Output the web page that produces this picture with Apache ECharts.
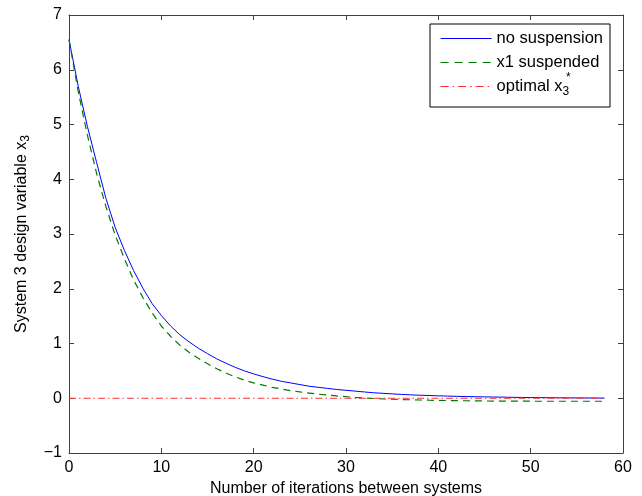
<!DOCTYPE html>
<html>
<head>
<meta charset="utf-8">
<script src="https://cdn.jsdelivr.net/npm/echarts@6/dist/echarts.min.js"></script>
<style>
  html, body { margin: 0; padding: 0; background: #fff; }
  #chart { width: 642px; height: 496px; }
</style>
</head>
<body>
<div id="chart"></div>
<script>
  // iteration index 0..58
  const iterations = []
  for (let i = 0; i <= 58; i++) iterations.push(i)

  const noSuspension = [
    6.55, 5.70, 4.96, 4.30, 3.65, 3.12, 2.70, 2.33, 2.01, 1.73,
    1.51, 1.32, 1.16, 1.03, 0.915, 0.815, 0.72, 0.64, 0.565, 0.50,
    0.445, 0.395, 0.35, 0.31, 0.28, 0.25, 0.22, 0.20, 0.18, 0.16,
    0.145, 0.13, 0.115, 0.10, 0.09, 0.08, 0.07, 0.062, 0.055, 0.05,
    0.044, 0.04, 0.035, 0.031, 0.028, 0.025, 0.022, 0.02, 0.017, 0.015,
    0.013, 0.011, 0.01, 0.008, 0.007, 0.006, 0.005, 0.004, 0.003
  ]
  const x1Suspended = [
    6.55, 5.60, 4.80, 4.10, 3.50, 2.98, 2.55, 2.16, 1.84, 1.56,
    1.32, 1.13, 0.97, 0.84, 0.73, 0.63, 0.54, 0.46, 0.39, 0.33,
    0.28, 0.24, 0.20, 0.17, 0.14, 0.115, 0.095, 0.075, 0.058, 0.042,
    0.028, 0.015, 0.004, -0.005, -0.012, -0.018, -0.023, -0.028, -0.032, -0.036,
    -0.039, -0.042, -0.044, -0.046, -0.048, -0.05, -0.051, -0.052, -0.053, -0.054,
    -0.054, -0.055, -0.055, -0.055, -0.055, -0.055, -0.055, -0.055, -0.055
  ]
  const optimalX3 = iterations.map(() => 0)

  const xTicks = [0, 60, 10]
  const yTicks = [-1, 7, 1]

  const pairs = vals => iterations.map((x, i) => [x, vals[i]])

  const font = 'Liberation Sans, Arial, Helvetica, sans-serif'
  const axisColor = '#404040'
  const blue = '#0000ff'
  const green = '#007a00'
  const red = '#ff3030'

  const chart = echarts.init(document.getElementById('chart'))

  const baseAxis = (pos, show) => {
    const horiz = pos === 'bottom' || pos === 'top'
    const t = horiz ? xTicks : yTicks
    return {
      type: 'value',
      position: pos,
      min: t[0],
      max: t[1],
      interval: t[2],
      axisLine: { show: true, onZero: false, lineStyle: { color: axisColor, width: 1 } },
      axisTick: { show: true, inside: true, length: 5, lineStyle: { color: axisColor } },
      splitLine: { show: false },
      axisLabel: {
        show: show,
        color: '#000',
        fontSize: 16,
        fontFamily: font,
        margin: 7,
        formatter: v => String(v).replace('-', '\u2212')
      }
    }
  }

  const xBottom = Object.assign(baseAxis('bottom', true), {
    name: 'Number of iterations between systems',
    nameLocation: 'middle',
    nameGap: 26,
    nameTextStyle: { color: '#000', fontSize: 16, fontFamily: font }
  })
  const yLeft = Object.assign(baseAxis('left', true), {
    name: 'System 3 design variable x{sub|3}',
    nameLocation: 'middle',
    nameGap: 37,
    nameTextStyle: {
      color: '#000', fontSize: 16, fontFamily: font,
      rich: { sub: { fontSize: 12, fontFamily: font, color: '#000', padding: [8, 0, 0, 0] } }
    }
  })

  const legendItem = (name, color, type) => ({
    name: name,
    itemStyle: { opacity: 0 },
    lineStyle: { color: color, width: 1.2, type: type, opacity: 1 }
  })

  chart.setOption({
    animation: false,
    backgroundColor: '#fff',
    grid: { left: 69, right: 19, top: 15, bottom: 43, outerBoundsMode: 'none' },
    xAxis: [xBottom, baseAxis('top', false)],
    yAxis: [yLeft, baseAxis('right', false)],
    legend: {
      left: 430,
      top: 24,
      orient: 'vertical',
      backgroundColor: '#fff',
      borderColor: '#000',
      borderWidth: 1,
      borderRadius: 0,
      padding: [6, 7, 9, 10],
      itemGap: 7,
      itemWidth: 51,
      itemHeight: 14,
      textStyle: {
        color: '#000', fontSize: 16.5, fontFamily: font,
        rich: { sub: { fontSize: 12, fontFamily: font, color: '#000', padding: [11, 0, 0, 0] } }
      },
      formatter: name => name === 'optimal x3' ? 'optimal x{sub|3}' : name,
      data: [
        legendItem('no suspension', blue, 'solid'),
        legendItem('x1 suspended', green, [8, 6]),
        legendItem('optimal x3', red, [8, 4, 1.5, 4])
      ]
    },
    graphic: [{
      type: 'text',
      x: 566,
      y: 72,
      z: 100,
      style: { text: '*', fontSize: 12, fontFamily: font, fill: '#000' }
    }],
    series: [
      {
        name: 'no suspension',
        type: 'line',
        data: pairs(noSuspension),
        symbol: 'none',
        lineStyle: { color: blue, width: 1 },
        itemStyle: { color: blue }
      },
      {
        name: 'x1 suspended',
        type: 'line',
        data: pairs(x1Suspended),
        symbol: 'none',
        lineStyle: { color: green, width: 1.2, type: [7, 5] },
        itemStyle: { color: green }
      },
      {
        name: 'optimal x3',
        type: 'line',
        data: pairs(optimalX3),
        symbol: 'none',
        lineStyle: { color: red, width: 1.2, type: [7, 3, 1.5, 3] },
        itemStyle: { color: red }
      }
    ]
  })
</script>
</body>
</html>
